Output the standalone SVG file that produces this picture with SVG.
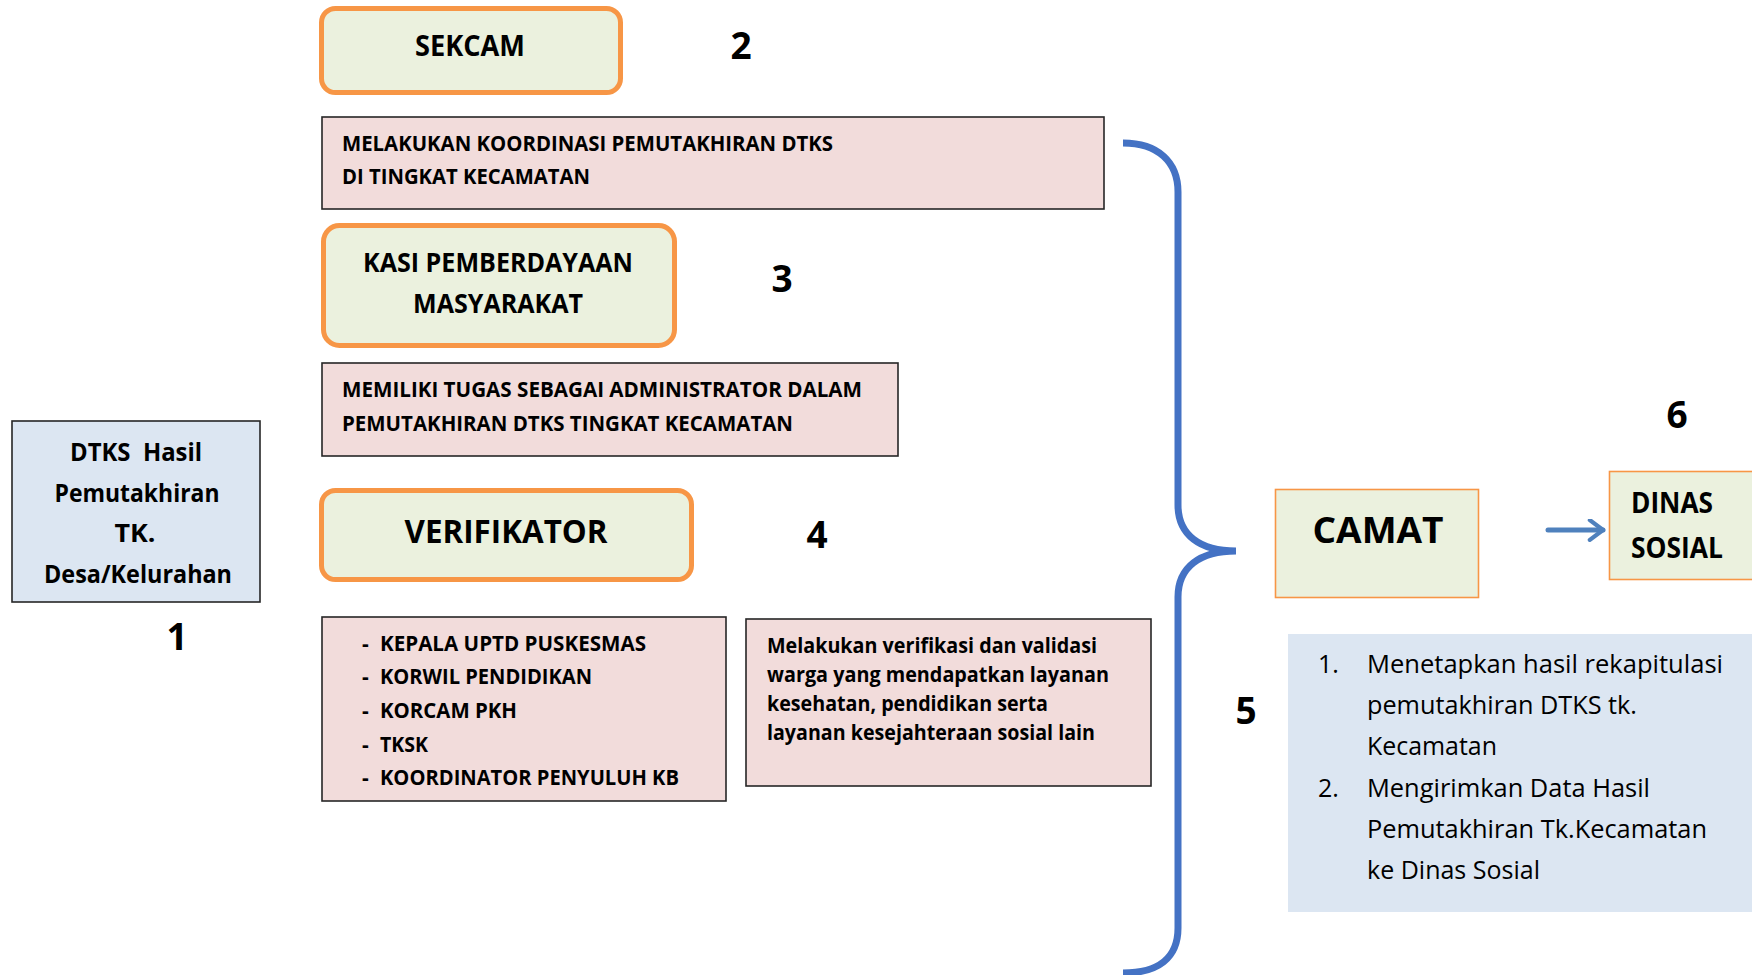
<svg xmlns="http://www.w3.org/2000/svg" width="1752" height="975" viewBox="0 0 1752 975">
<style>
text{font-family:"Open Sans","Liberation Sans",sans-serif;fill:#000}
.b{font-weight:700}
.role{fill:#EBF1DE;stroke:#F79646;stroke-width:5}
.desc{fill:#F2DCDB;stroke:#262626;stroke-width:1.6}
.camat{fill:#EBF1DE;stroke:#F79646;stroke-width:1.6}
.num{font-weight:700;font-size:37px;text-anchor:middle}
.t22{font-size:21px;font-weight:700}
.t21{font-size:21px;font-weight:700}
.c{text-anchor:middle}
</style>
<defs>
<marker id="chev" viewBox="0 0 12 14" refX="10" refY="7" markerWidth="4" markerHeight="4.6" orient="auto" markerUnits="strokeWidth">
<path d="M2,1 L10,7 L2,13" fill="none" stroke="#4F81BD" stroke-width="2.6" stroke-linecap="round" stroke-linejoin="round"/>
</marker>
</defs>
<rect width="1752" height="975" fill="#fff"/>

<g id="dtks">
<rect x="12" y="421" width="248" height="181" fill="#DCE6F2" stroke="#262626" stroke-width="1.6"/>
<text class="b c" x="136" y="461" font-size="25" textLength="132" lengthAdjust="spacingAndGlyphs" xml:space="preserve">DTKS  Hasil</text>
<text class="b c" x="137" y="502" font-size="25" textLength="165" lengthAdjust="spacingAndGlyphs">Pemutakhiran</text>
<text class="b c" x="135" y="542" font-size="25" textLength="41" lengthAdjust="spacingAndGlyphs">TK.</text>
<text class="b c" x="138" y="583" font-size="25" textLength="188" lengthAdjust="spacingAndGlyphs">Desa/Kelurahan</text>
</g>
<g id="n1"><text class="num" x="177" y="650">1</text></g>

<g id="sekcam">
<rect class="role" x="321.5" y="8.5" width="299" height="84" rx="14"/>
<text class="b c" x="470" y="56" font-size="29" textLength="110" lengthAdjust="spacingAndGlyphs">SEKCAM</text>
</g>
<g id="n2"><text class="num" x="741" y="59">2</text></g>

<g id="desc-sekcam">
<rect class="desc" x="322" y="117" width="782" height="92"/>
<text class="t22" x="342" y="151" textLength="491" lengthAdjust="spacingAndGlyphs">MELAKUKAN KOORDINASI PEMUTAKHIRAN DTKS</text>
<text class="t22" x="342" y="184" textLength="248" lengthAdjust="spacingAndGlyphs">DI TINGKAT KECAMATAN</text>
</g>

<g id="kasi">
<rect class="role" x="323.5" y="225.5" width="351" height="120" rx="16"/>
<text class="b c" x="498" y="272" font-size="26" textLength="270" lengthAdjust="spacingAndGlyphs">KASI PEMBERDAYAAN</text>
<text class="b c" x="498" y="313" font-size="26" textLength="170" lengthAdjust="spacingAndGlyphs">MASYARAKAT</text>
</g>
<g id="n3"><text class="num" x="782" y="292">3</text></g>

<g id="desc-kasi">
<rect class="desc" x="322" y="363" width="576" height="93"/>
<text class="t22" x="342" y="397" textLength="520" lengthAdjust="spacingAndGlyphs">MEMILIKI TUGAS SEBAGAI ADMINISTRATOR DALAM</text>
<text class="t22" x="342" y="431" textLength="451" lengthAdjust="spacingAndGlyphs">PEMUTAKHIRAN DTKS TINGKAT KECAMATAN</text>
</g>

<g id="verifikator">
<rect class="role" x="321.5" y="490.5" width="370" height="89" rx="14"/>
<text class="b c" x="506" y="543" font-size="33" textLength="203" lengthAdjust="spacingAndGlyphs">VERIFIKATOR</text>
</g>
<g id="n4"><text class="num" x="817" y="548">4</text></g>

<g id="verifikator-list">
<rect class="desc" x="322" y="617" width="404" height="184"/>
<g class="t21">
<text x="362" y="651">-</text><text x="380" y="651" textLength="266" lengthAdjust="spacingAndGlyphs">KEPALA UPTD PUSKESMAS</text>
<text x="362" y="684">-</text><text x="380" y="684" textLength="212" lengthAdjust="spacingAndGlyphs">KORWIL PENDIDIKAN</text>
<text x="362" y="718">-</text><text x="380" y="718" textLength="137" lengthAdjust="spacingAndGlyphs">KORCAM PKH</text>
<text x="362" y="752">-</text><text x="380" y="752" textLength="48" lengthAdjust="spacingAndGlyphs">TKSK</text>
<text x="362" y="785">-</text><text x="380" y="785" textLength="299" lengthAdjust="spacingAndGlyphs">KOORDINATOR PENYULUH KB</text>
</g>
</g>

<g id="verifikator-desc">
<rect class="desc" x="746" y="619" width="405" height="167"/>
<g class="t21">
<text x="767" y="653" textLength="330" lengthAdjust="spacingAndGlyphs">Melakukan verifikasi dan validasi</text>
<text x="767" y="682" textLength="342" lengthAdjust="spacingAndGlyphs">warga yang mendapatkan layanan</text>
<text x="767" y="711" textLength="281" lengthAdjust="spacingAndGlyphs">kesehatan, pendidikan serta</text>
<text x="767" y="740" textLength="328" lengthAdjust="spacingAndGlyphs">layanan kesejahteraan sosial lain</text>
</g>
</g>

<g id="n5"><text class="num" x="1246" y="724">5</text></g>

<g id="camat">
<rect class="camat" x="1275.5" y="489.5" width="203" height="108"/>
<text class="b c" x="1378" y="543" font-size="36" textLength="131" lengthAdjust="spacingAndGlyphs">CAMAT</text>
</g>

<g id="dinas">
<rect class="camat" x="1609.5" y="471.5" width="150" height="108"/>
<text class="b" x="1631" y="513" font-size="28" textLength="82" lengthAdjust="spacingAndGlyphs">DINAS</text>
<text class="b" x="1631" y="558" font-size="28" textLength="92" lengthAdjust="spacingAndGlyphs">SOSIAL</text>
</g>
<g id="n6"><text class="num" x="1677" y="428">6</text></g>

<g id="camat-tasks">
<rect x="1288" y="634" width="470" height="278" fill="#DCE6F2"/>
<g font-size="25">
<text x="1318" y="673">1.</text>
<text x="1367" y="673" textLength="356" lengthAdjust="spacingAndGlyphs">Menetapkan hasil rekapitulasi</text>
<text x="1367" y="714" textLength="270" lengthAdjust="spacingAndGlyphs">pemutakhiran DTKS tk.</text>
<text x="1367" y="755" textLength="130" lengthAdjust="spacingAndGlyphs">Kecamatan</text>
<text x="1318" y="797">2.</text>
<text x="1367" y="797" textLength="283" lengthAdjust="spacingAndGlyphs">Mengirimkan Data Hasil</text>
<text x="1367" y="838" textLength="340" lengthAdjust="spacingAndGlyphs">Pemutakhiran Tk.Kecamatan</text>
<text x="1367" y="879" textLength="173" lengthAdjust="spacingAndGlyphs">ke Dinas Sosial</text>
</g>
</g>

<g id="connectors">
<path d="M1123,143 C1158,143 1178,162 1178,192 L1178,505 C1178,535 1200,551 1236,551 C1200,551 1178,567 1178,597 L1178,928 C1178,958 1158,973 1123,973" fill="none" stroke="#4472C4" stroke-width="7"/>
<path d="M1548,530 L1603,530" fill="none" stroke="#4F81BD" stroke-width="5" stroke-linecap="round" marker-end="url(#chev)"/>
</g>
</svg>
